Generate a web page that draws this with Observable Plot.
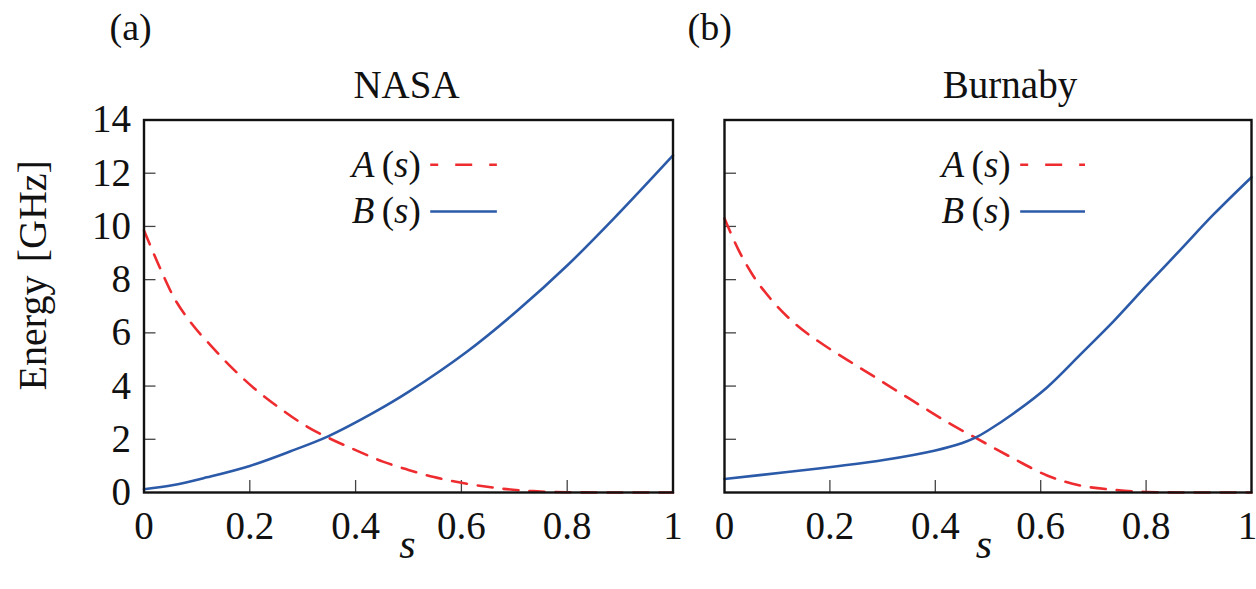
<!DOCTYPE html>
<html><head><meta charset="utf-8">
<script src="https://cdn.jsdelivr.net/npm/d3@7"></script>
<script src="https://cdn.jsdelivr.net/npm/@observablehq/plot@0.6"></script>
<style>
body{margin:0;background:#fff;}
#wrap{position:relative;width:1256px;height:589px;overflow:hidden;}
#wrap svg{position:absolute;top:0;font-family:"Liberation Serif","Times New Roman",serif;background:none;}
</style></head><body><div id="wrap"></div>
<script>
// ---- data ----
const panelTitles = ["NASA", "Burnaby"];
const panelTags = ["(a)", "(b)"];
const xTicks = [0, 0.2, 0.4, 0.6, 0.8, 1];
const xTickLabels = ["0", "0.2", "0.4", "0.6", "0.8", "1"];
const yTicks = [0, 2, 4, 6, 8, 10, 12, 14];
const yTickLabels = ["0", "2", "4", "6", "8", "10", "12", "14"];
const yLabel = "Energy\u2004[GHz]";
const xLabel = "s";
const seriesNames = ["A(s)", "B(s)"];

// NASA
const nasaA_s = [0, 0.03, 0.056, 0.088, 0.126, 0.163, 0.208, 0.258, 0.308, 0.346, 0.397, 0.453, 0.5, 0.548, 0.611, 0.674, 0.736, 0.8, 0.9, 1.0];
const nasaA_v = [9.85, 8.45, 7.35, 6.40, 5.53, 4.75, 3.92, 3.15, 2.48, 2.08, 1.62, 1.15, 0.85, 0.58, 0.33, 0.15, 0.05, 0.01, 0, 0];
const nasaB_s = [0, 0.056, 0.119, 0.2, 0.277, 0.349, 0.434, 0.5, 0.611, 0.705, 0.8, 0.894, 1.0];
const nasaB_v = [0.12, 0.28, 0.57, 1.0, 1.55, 2.12, 3.0, 3.78, 5.3, 6.82, 8.53, 10.42, 12.67];

// Burnaby
const burnA_s = [0, 0.027, 0.052, 0.09, 0.134, 0.185, 0.235, 0.286, 0.336, 0.387, 0.431, 0.476, 0.549, 0.612, 0.676, 0.739, 0.8, 0.9, 1.0];
const burnA_v = [10.3, 9.1, 8.22, 7.22, 6.34, 5.59, 4.96, 4.33, 3.71, 3.08, 2.55, 2.06, 1.27, 0.64, 0.26, 0.1, 0.02, 0, 0];
const burnB_s = [0, 0.115, 0.21, 0.305, 0.4, 0.45, 0.476, 0.5, 0.549, 0.612, 0.676, 0.739, 0.802, 0.865, 0.928, 1.0];
const burnB_v = [0.51, 0.76, 0.98, 1.23, 1.58, 1.85, 2.06, 2.33, 2.98, 3.95, 5.2, 6.45, 7.8, 9.12, 10.45, 11.85];

// legend placement (in data units) per panel
const legendX1 = [0.542, 0.562];
const legendX2 = [0.668, 0.685];
const legendY = [12.32, 10.56];

const RED = "#ee2c2f", BLUE = "#2b5aa8";
const FONT = '"Liberation Serif","Times New Roman",serif';
const zip = (s, v) => s.map((d, i) => ({s: d, v: v[i]}));

function panel({left, w, ml, mr, idx, A, B, showY, titleDx, tagDx, xLabelDx, lastDx}) {
  const H = 589, mt = 119.5, mb = 97;
  const fw = w - ml - mr, fh = H - mt - mb;
  const tickText = {frameAnchor: "bottom", text: d => xTickLabels[xTicks.indexOf(d)], x: d => d,
    lineAnchor: "top", dy: 19, fontSize: 39, fill: "#111", fontFamily: FONT};
  const marks = [
    Plot.tickX(xTicks.slice(1, -1), {x: d => d, insetTop: fh - 12, stroke: "#444", strokeWidth: 1.3}),
    Plot.tickY(yTicks.slice(1, -1), {y: d => d, insetRight: fw - 12, stroke: "#444", strokeWidth: 1.3}),
    Plot.text(xTicks.slice(0, -1), tickText),
    Plot.text(xTicks.slice(-1), {...tickText, dx: lastDx}),
    Plot.line(zip(A.s, A.v), {x: "s", y: "v", stroke: RED, strokeWidth: 2.6, strokeDasharray: "15,11", curve: "monotone-x"}),
    Plot.line(zip(B.s, B.v), {x: "s", y: "v", stroke: BLUE, strokeWidth: 2.6, curve: "catmull-rom"}),
    Plot.ruleY([legendY[0]], {x1: legendX1[idx], x2: legendX2[idx], stroke: RED, strokeWidth: 2.6, strokeDasharray: "8,17,17,17,17"}),
    Plot.ruleY([legendY[1]], {x1: legendX1[idx], x2: legendX2[idx], stroke: BLUE, strokeWidth: 2.6}),
    Plot.text([seriesNames[0]], {x: legendX1[idx], y: legendY[0], text: d => d, textAnchor: "end", dx: -10, fontSize: 37, fill: "#111", fontFamily: FONT}),
    Plot.text([seriesNames[1]], {x: legendX1[idx], y: legendY[1], text: d => d, textAnchor: "end", dx: -10, fontSize: 37, fill: "#111", fontFamily: FONT}),
    Plot.text([panelTitles[idx]], {frameAnchor: "top", text: d => d, lineAnchor: "bottom", dy: -22.5, dx: titleDx, fontSize: 39, fill: "#111", fontFamily: FONT}),
    Plot.text([panelTags[idx]], {frameAnchor: "top-left", text: d => d, textAnchor: "start", lineAnchor: "bottom", dy: -80, dx: tagDx, fontSize: 38, fill: "#111", fontFamily: FONT}),
    Plot.text([xLabel], {frameAnchor: "bottom", text: d => d, lineAnchor: "bottom", dy: 65, dx: xLabelDx, fontSize: 42, fontStyle: "italic", fill: "#111", fontFamily: FONT}),
    Plot.frame({stroke: "#111", strokeWidth: 2.4})
  ];
  if (showY) {
    marks.push(Plot.axisY(yTicks, {tickSize: 0, tickPadding: 13, fontSize: 39, label: null,
      tickFormat: d => yTickLabels[yTicks.indexOf(d)], fill: "#111", fontFamily: FONT}));
    marks.push(Plot.text([yLabel], {frameAnchor: "left", text: d => d, rotate: -90, lineAnchor: "bottom",
      textAnchor: "middle", dx: -98.5, dy: -31, fontSize: 40, fill: "#111", fontFamily: FONT}));
  }
  const svg = Plot.plot({
    width: w, height: H,
    marginLeft: ml, marginRight: mr, marginTop: mt, marginBottom: mb,
    x: {domain: [0, 1], axis: null},
    y: {domain: [0, 14], axis: null},
    style: {fontFamily: FONT, background: "none", overflow: "visible"},
    marks
  });
  svg.style.left = left + "px";
  // italic math letters in legend
  d3.select(svg).selectAll("text").each(function () {
    const t = this.textContent;
    if (t === "A(s)" || t === "B(s)") {
      const sel = d3.select(this);
      sel.text(null);
      sel.append("tspan").attr("font-style", "italic").text(t[0]);
      sel.append("tspan").text("\u2009(");
      sel.append("tspan").attr("font-style", "italic").text("s");
      sel.append("tspan").text(")");
    }
  });
  document.getElementById("wrap").appendChild(svg);
}

panel({left: 0, w: 680, ml: 143.5, mr: 7.5, idx: 0, showY: true, titleDx: -2, tagDx: -34.5, xLabelDx: -1, lastDx: 0,
  A: {s: nasaA_s, v: nasaA_v}, B: {s: nasaB_s, v: nasaB_v}});
panel({left: 680, w: 576, ml: 44, mr: 5, idx: 1, showY: false, titleDx: 22, tagDx: -37, xLabelDx: -4, lastDx: -4,
  A: {s: burnA_s, v: burnA_v}, B: {s: burnB_s, v: burnB_v}});
</script></body></html>
